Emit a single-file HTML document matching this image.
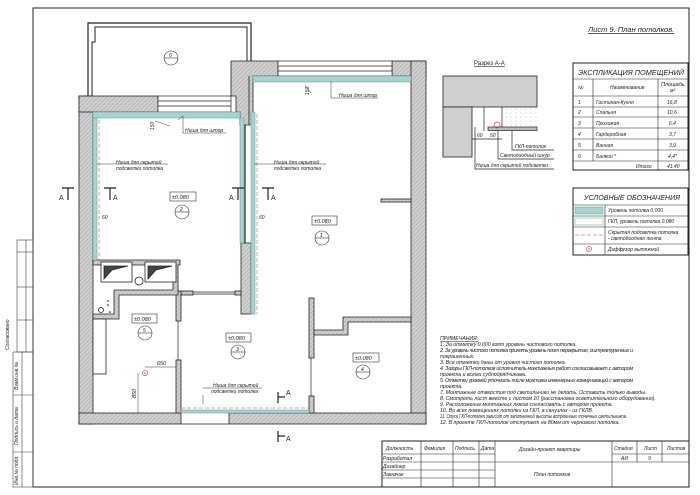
<!DOCTYPE html>
<html><head><meta charset="utf-8"><style>
html,body{margin:0;padding:0;background:#fff;}
svg{display:block;}
text{font-family:"Liberation Sans",sans-serif;font-style:italic;fill:#222;}
</style></head><body>
<svg width="700" height="495" viewBox="0 0 700 495" xmlns="http://www.w3.org/2000/svg">
<defs>
<pattern id="h" width="3" height="3" patternUnits="userSpaceOnUse" patternTransform="rotate(45)">
<rect width="3" height="3" fill="#cfcfcf"/><line x1="0" y1="0" x2="0" y2="3" stroke="#9a9a9a" stroke-width="0.8"/>
</pattern>
<pattern id="d" width="5" height="4" patternUnits="userSpaceOnUse"><circle cx="1" cy="1" r="0.4" fill="#777"/></pattern>
</defs>
<rect x="33" y="8" width="656" height="479" fill="none" stroke="#222" stroke-width="1"/>
<g stroke="#444" stroke-width="0.6" fill="none">
<rect x="17" y="240" width="16" height="112"/>
<line x1="26" y1="240" x2="26" y2="352"/>
<line x1="17" y1="252" x2="33" y2="252"/><line x1="17" y1="287" x2="33" y2="287"/><line x1="17" y1="320" x2="33" y2="320"/>
<rect x="13" y="352" width="20" height="135"/>
<line x1="22" y1="352" x2="22" y2="487"/>
<line x1="13" y1="395" x2="33" y2="395"/><line x1="13" y1="452" x2="33" y2="452"/>
</g>
<g font-size="5">
<text transform="translate(9,350) rotate(-90)">Согласовано</text>
<text transform="translate(18,390) rotate(-90)">Взам.инв.№</text>
<text transform="translate(18,445) rotate(-90)">Подпись и дата</text>
<text transform="translate(18,485) rotate(-90)">Инв.№ подл.</text>
</g>
<path d="M88,97 V23 H251 V61" fill="none" stroke="#222" stroke-width="1.2"/>
<path d="M92,97 V42 H95 V27 H247 V61" fill="none" stroke="#222" stroke-width="1"/>
<g fill="url(#h)" stroke="#222" stroke-width="0.8">
<rect x="79" y="96" width="14" height="328"/>
<rect x="79" y="96" width="79" height="16"/>
<path d="M231,61 H278 V76 H253 V125 H240 V112 H236 V96 H231 Z"/>
<rect x="392" y="61" width="34" height="15"/>
<rect x="411" y="61" width="15" height="363"/>
<rect x="79" y="413" width="102" height="11"/>
<rect x="229" y="413" width="197" height="11"/>
<rect x="241" y="243" width="10" height="71"/>
<rect x="176" y="291" width="5" height="30"/>
<rect x="176" y="360" width="5" height="53"/>
<rect x="181" y="291" width="12" height="4"/>
<rect x="235" y="291" width="6" height="4"/>
<path d="M93,260 H180 V265 H178 V295 H119 V319 H93 V314 H114 V290 H173 V265 H93 Z"/>
<rect x="309" y="298" width="5" height="60"/>
<rect x="309" y="396" width="5" height="17"/>
<path d="M314,330 H343 V317 H411 V322 H348 V335 H314 Z"/>
<rect x="381" y="199" width="30" height="3"/>
</g>
<g stroke="#222" stroke-width="0.7" fill="#fff">
<rect x="158" y="96" width="73" height="16"/>
<line x1="158" y1="101" x2="231" y2="101"/><line x1="158" y1="106" x2="231" y2="106"/>
<rect x="278" y="61" width="114" height="15"/>
<line x1="278" y1="66" x2="392" y2="66"/><line x1="278" y1="71" x2="392" y2="71"/>
<line x1="193" y1="292" x2="235" y2="292"/><line x1="193" y1="294" x2="235" y2="294"/>
<line x1="178" y1="321" x2="178" y2="360"/><line x1="311" y1="358" x2="311" y2="396"/>
<line x1="181" y1="424" x2="229" y2="424"/>
</g>
<line x1="245" y1="125" x2="245" y2="243" stroke="#222" stroke-width="1.2"/>
<line x1="249" y1="76" x2="249" y2="125" stroke="#222" stroke-width="0.8"/>
<g fill="#a9d3cf" stroke="#5a9c97" stroke-width="0.5">
<rect x="93" y="112" width="147" height="6"/>
<rect x="93" y="118" width="4" height="142"/>
<rect x="240" y="118" width="4" height="125"/>
<rect x="253" y="76" width="158" height="6"/>
<rect x="251" y="112" width="4" height="202"/>
<rect x="181" y="410" width="128" height="3"/>
</g>
<g stroke="#d9a3a3" stroke-width="1" stroke-dasharray="4,2" fill="none">
<line x1="99" y1="120" x2="99" y2="260"/>
<line x1="257" y1="114" x2="257" y2="314"/>
<line x1="181" y1="408" x2="309" y2="408"/>
</g>
<g stroke="#222" stroke-width="0.8">
<rect x="101" y="262" width="31" height="20" fill="#fff"/><path d="M104,279 V266 H128 L112,270 Z" fill="#444"/>
<rect x="145" y="262" width="31" height="20" fill="#fff"/><path d="M148,279 V266 H172 L156,270 Z" fill="#444"/>
<circle cx="139" cy="281" r="4" fill="#fff"/>
<circle cx="101" cy="310" r="2.5" fill="#fff"/>
<rect x="93" y="319" width="13" height="55" fill="#fff"/>
</g>
<circle cx="108" cy="301" r="0.8"/><circle cx="108" cy="305" r="0.8"/><circle cx="110" cy="312" r="0.8"/>
<circle cx="145" cy="373" r="2.5" fill="none" stroke="#d55" stroke-width="0.7"/><circle cx="145" cy="373" r="0.8" fill="#d55"/>
<g stroke="#333" stroke-width="0.5" fill="none">
<line x1="145" y1="367" x2="176" y2="367"/><line x1="138" y1="373" x2="138" y2="413"/>
</g>
<g font-size="5.5"><text x="157" y="365">650</text><text transform="translate(136,398) rotate(-90)">850</text></g>
<g font-size="5.5" fill="none">
<rect x="170" y="192" width="26" height="9" stroke="#333" stroke-width="0.6"/>
<rect x="312" y="216" width="25" height="9" stroke="#333" stroke-width="0.6"/>
<rect x="132" y="314" width="25" height="9" stroke="#333" stroke-width="0.6"/>
<rect x="226" y="333" width="25" height="9" stroke="#333" stroke-width="0.6"/>
<rect x="353" y="353" width="26" height="9" stroke="#333" stroke-width="0.6"/>
</g>
<g font-size="5.5"><text x="172" y="199">±0.080</text><text x="314" y="223">±0.080</text><text x="134" y="321">±0.080</text><text x="228" y="340">±0.080</text><text x="355" y="360">±0.080</text></g>
<g stroke="#333" stroke-width="0.6" fill="#fff">
<circle cx="182" cy="212" r="7"/><circle cx="322" cy="238" r="7"/><circle cx="145" cy="333" r="7"/><circle cx="238" cy="352" r="7"/><circle cx="363" cy="372" r="7"/><circle cx="171" cy="58" r="7"/>
<line x1="175" y1="212" x2="189" y2="212"/><line x1="315" y1="238" x2="329" y2="238"/><line x1="138" y1="333" x2="152" y2="333"/><line x1="231" y1="352" x2="245" y2="352"/><line x1="356" y1="372" x2="370" y2="372"/><line x1="164" y1="58" x2="178" y2="58"/>
</g>
<g font-size="5"><text x="180" y="211">2</text><text x="320" y="237">1</text><text x="143" y="332">5</text><text x="236" y="351">3</text><text x="361" y="371">4</text><text x="169" y="57">6</text></g>
<g font-size="5" >
<text x="185" y="132">Ниша для штор</text><text x="339" y="97">Ниша для штор</text>
<text x="116" y="164">Ниша для скрытой</text><text x="116" y="170">подсветки потолка</text>
<text x="274" y="164">Ниша для скрытой</text><text x="274" y="170">подсветки потолка</text>
<text x="213" y="387">Ниша для скрытой</text><text x="211" y="393">подсветки потолка</text>
<text x="102" y="219">60</text><text x="259" y="219">60</text>
<text transform="translate(154,130) rotate(-90)">150</text><text transform="translate(309,95) rotate(-90)">150</text>
</g>
<g stroke="#333" stroke-width="0.5" fill="none">
<polyline points="183,133 183,116 178,120"/><line x1="183" y1="133" x2="226" y2="133"/>
<polyline points="331,98 331,81"/><line x1="331" y1="98" x2="378" y2="98"/>
<line x1="97" y1="164" x2="168" y2="164"/><line x1="254" y1="164" x2="326" y2="164"/>
<polyline points="203,395 203,404"/><line x1="203" y1="388" x2="262" y2="388"/>
<line x1="155" y1="121" x2="170" y2="126"/><line x1="305" y1="85" x2="311" y2="93"/>
</g>
<g stroke="#222" stroke-width="1.2" fill="none">
<path d="M62,188 H74 M68,188 V200"/><path d="M104,188 H116 M110,188 V200"/>
<path d="M232,188 H244 M238,188 V200"/><path d="M262,188 H274 M268,188 V200"/>
<path d="M278,392 V403 M278,397 H285"/><path d="M278,431 V442 M278,436 H285"/>
</g>
<g font-size="7"><text x="59" y="200" style="font-style:normal">A</text><text x="113" y="200" style="font-style:normal">A</text><text x="229" y="200" style="font-style:normal">A</text><text x="271" y="200" style="font-style:normal">A</text><text x="286" y="395" style="font-style:normal">A</text><text x="286" y="441" style="font-style:normal">A</text></g>
<text x="588" y="32" font-size="7.5" text-decoration="underline">Лист 9. План потолков.</text>
<text x="474" y="65" font-size="6" style="font-style:normal" text-decoration="underline">Разрез А-А</text>
<rect x="443" y="76" width="94" height="31" fill="#cfcfcf" stroke="#222" stroke-width="0.8"/>
<rect x="443" y="107" width="29" height="50" fill="#cfcfcf" stroke="#222" stroke-width="0.8"/>
<rect x="503" y="108" width="34" height="19" fill="url(#d)"/>
<g stroke="#222" stroke-width="0.7" fill="none">
<line x1="484" y1="107" x2="484" y2="131"/><line x1="502" y1="107" x2="502" y2="127"/>
<rect x="488" y="127" width="49" height="3.5" fill="#bbb"/>
<line x1="472" y1="139" x2="502" y2="139"/>
<polyline points="475,127 475,169 554,169"/><polyline points="498,130 498,159 554,159"/><polyline points="512,131 512,150 554,150"/>
</g>
<circle cx="497" cy="125" r="3" fill="none" stroke="#d44" stroke-width="0.8"/>
<g font-size="5"><text x="477" y="137">60</text><text x="490" y="137">50</text><text x="515" y="148">ГКЛ-потолок</text><text x="500" y="157">Светодиодный шнур</text><text x="476" y="167">Ниша для скрытой подсветки</text></g>
<g stroke="#222" fill="none">
<rect x="573" y="63" width="115" height="107" stroke-width="1"/>
<g stroke-width="0.6">
<line x1="573" y1="79" x2="688" y2="79"/><line x1="573" y1="96" x2="688" y2="96"/>
<line x1="573" y1="107" x2="688" y2="107"/><line x1="573" y1="117" x2="688" y2="117"/><line x1="573" y1="128" x2="688" y2="128"/><line x1="573" y1="139" x2="688" y2="139"/><line x1="573" y1="150" x2="688" y2="150"/><line x1="573" y1="161" x2="688" y2="161"/>
<line x1="593" y1="79" x2="593" y2="161"/><line x1="658" y1="79" x2="658" y2="170"/>
</g>
</g>
<text x="578" y="75" font-size="7" textLength="106" lengthAdjust="spacingAndGlyphs">ЭКСПЛИКАЦИЯ ПОМЕЩЕНИЙ</text>
<g font-size="5">
<text x="578" y="89">№</text><text x="610" y="89">Наименование</text><text x="661" y="86" textLength="25" lengthAdjust="spacingAndGlyphs">Площадь,</text><text x="670" y="92">м²</text>
<text x="578" y="104">1</text><text x="596" y="104">Гостиная-Кухня</text><text x="667" y="104">16,8</text>
<text x="578" y="114">2</text><text x="596" y="114">Спальня</text><text x="667" y="114">10,6</text>
<text x="578" y="125">3</text><text x="596" y="125">Прихожая</text><text x="669" y="125">6,4</text>
<text x="578" y="136">4</text><text x="596" y="136">Гардеробная</text><text x="669" y="136">3,7</text>
<text x="578" y="147">5</text><text x="596" y="147">Ванная</text><text x="669" y="147">3,9</text>
<text x="578" y="158">6</text><text x="596" y="158">Балкон *</text><text x="668" y="158">4,4*</text>
<text x="636" y="168">Итого</text><text x="667" y="168">41.40</text>
</g>
<g stroke="#222" fill="none">
<rect x="573" y="188" width="115" height="67" stroke-width="1"/>
<g stroke-width="0.6"><line x1="573" y1="205" x2="688" y2="205"/><line x1="573" y1="216" x2="688" y2="216"/><line x1="573" y1="227" x2="688" y2="227"/><line x1="573" y1="244" x2="688" y2="244"/><line x1="605" y1="205" x2="605" y2="255"/></g>
</g>
<rect x="575" y="207" width="28" height="7" fill="#a9d3cf" stroke="#5a9c97" stroke-width="0.5"/>
<rect x="575" y="218" width="28" height="7" fill="#fff" stroke="#a9d3cf" stroke-width="1"/>
<line x1="575" y1="235" x2="603" y2="235" stroke="#d9a3a3" stroke-dasharray="4,2"/>
<circle cx="589" cy="249" r="2.5" fill="none" stroke="#d55" stroke-width="0.7"/><circle cx="589" cy="249" r="0.8" fill="#d55"/>
<text x="584" y="200" font-size="7" textLength="96" lengthAdjust="spacingAndGlyphs">УСЛОВНЫЕ ОБОЗНАЧЕНИЯ</text>
<g font-size="5"><text x="608" y="212">Уровень потолка 0.000</text><text x="608" y="223">ГКЛ, уровень потолка 0.080</text><text x="608" y="234">Скрытая подсветка потолка</text><text x="608" y="240">- светодиодная лента</text><text x="608" y="251">Диффузор вытяжной</text></g>
<g font-size="5.2">
<text x="440" y="340" text-decoration="underline">ПРИМЕЧАНИЯ:</text>
<text x="440" y="346">1. За отметку 0.000 взят уровень чистового потолка.</text>
<text x="440" y="352" textLength="193" lengthAdjust="spacing">2. За уровень чистого потолка принять уровень плит перекрытия, оштукатуренных и</text>
<text x="440" y="358">покрашенных.</text>
<text x="440" y="364">3. Все отметки даны от уровня чистого потолка.</text>
<text x="440" y="370" textLength="193" lengthAdjust="spacing">4. Зазоры ГКЛ-потолков исполнитель монтажных работ согласовывает с автором</text>
<text x="440" y="376">проекта и всеми субподрядчиками.</text>
<text x="440" y="382" textLength="193" lengthAdjust="spacing">5. Отметки уровней уточнить после монтажа инженерных коммуникаций с автором</text>
<text x="440" y="388">проекта.</text>
<text x="440" y="394">7. Монтажные отверстия под светильники не делать. Оставить только выводы.</text>
<text x="440" y="400">8. Смотреть лист вместе с листом 10 (расстановка осветительного оборудования).</text>
<text x="440" y="406">9. Расположение монтажных люков согласовать с автором проекта.</text>
<text x="440" y="412">10. Во всех помещениях потолки из ГКЛ, в санузлах - из ГКЛВ.</text>
<text x="440" y="418" textLength="187" lengthAdjust="spacingAndGlyphs">11. Опуск ГКЛ-потолка зависит от заполненной высоты встроенных точечных светильников.</text>
<text x="440" y="424">12. В проекте ГКЛ-потолок отступает на 80мм от чернового потолка.</text>
</g>
<g stroke="#222" fill="none">
<rect x="382" y="441" width="307" height="46" stroke-width="1"/>
<g stroke-width="0.6">
<line x1="421" y1="441" x2="421" y2="487"/><line x1="453" y1="441" x2="453" y2="487"/><line x1="479" y1="441" x2="479" y2="487"/><line x1="495" y1="441" x2="495" y2="487"/><line x1="612" y1="441" x2="612" y2="487"/>
<line x1="637" y1="441" x2="637" y2="462"/><line x1="662" y1="441" x2="662" y2="462"/>
<line x1="382" y1="454" x2="495" y2="454"/><line x1="382" y1="462" x2="495" y2="462"/><line x1="382" y1="470" x2="495" y2="470"/><line x1="382" y1="478" x2="495" y2="478"/>
<line x1="495" y1="462" x2="689" y2="462"/><line x1="612" y1="454" x2="689" y2="454"/>
</g>
</g>
<g font-size="5">
<text x="386" y="450">Должность</text><text x="424" y="450">Фамилия</text><text x="455" y="450">Подпись</text><text x="481" y="450">Дата</text>
<text x="383" y="460">Разработал</text><text x="383" y="468">Дизайнер</text><text x="383" y="476">Заказчик</text>
<text x="519" y="451">Дизайн-проект квартиры</text><text x="534" y="476">План потолков</text>
<text x="614" y="450">Стадия</text><text x="644" y="450">Лист</text><text x="667" y="450">Листов</text>
<text x="621" y="460">АИ</text><text x="648" y="460">9</text>
</g>
</svg>
</body></html>
